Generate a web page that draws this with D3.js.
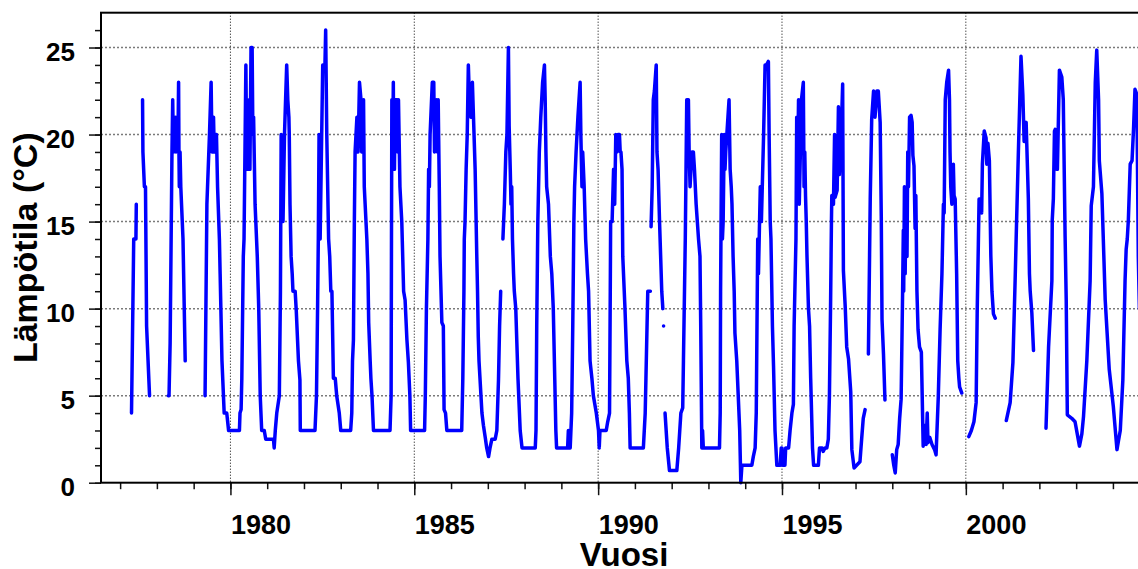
<!DOCTYPE html>
<html>
<head>
<meta charset="utf-8">
<script src="https://cdn.jsdelivr.net/npm/d3@7"></script>
<style>
  html, body { margin: 0; padding: 0; background: #fff; }
  svg { display: block; font-family: Arial, "Liberation Sans", Helvetica, sans-serif; }
</style>
</head>
<body>
<script>
// water temperature, [decimal year, °C]; one array per unbroken stretch of the record
const run1977a = [[1977.31,4],[1977.37,14],[1977.43,14],[1977.44,16]];
const run1977b = [[1977.61,22],[1977.62,19],[1977.64,18],[1977.66,17],[1977.69,17],[1977.72,9],[1977.76,7],[1977.80,5]];
const run1978 = [[1978.31,5],[1978.33,5],[1978.36,8],[1978.41,19],[1978.43,22],[1978.45,19],[1978.50,21],[1978.52,19],
  [1978.55,21],[1978.57,19],[1978.59,23],[1978.60,19],[1978.61,17],[1978.63,19],[1978.65,17],[1978.71,14],[1978.77,7]];
const run1979to87 = [
  [1979.31,5],[1979.36,16],[1979.43,20],[1979.475,23],[1979.50,19],[1979.54,21],[1979.56,19],[1979.58,20],[1979.62,20],
  [1979.63,19],[1979.65,17],[1979.70,14],[1979.72,12],[1979.77,7],[1979.83,4],[1979.90,4],[1979.95,3],[1980.245,3],
  [1980.26,4],[1980.29,4.2],
  [1980.31,6],[1980.35,13],[1980.37,14],[1980.42,24],[1980.445,18],[1980.49,18],[1980.51,22],[1980.53,18],[1980.56,25],
  [1980.59,25],[1980.61,20],[1980.63,21],[1980.67,16],[1980.73,13],[1980.77,10],[1980.81,5],[1980.85,3],[1980.92,3],
  [1980.96,2.5],[1981.17,2.5],[1981.19,2],[1981.22,3],[1981.26,4],[1981.33,5],
  [1981.36,11],[1981.38,20],[1981.40,15],[1981.43,15],[1981.47,20],[1981.53,24],[1981.56,22],[1981.59,21],[1981.60,20],
  [1981.62,16],[1981.65,13],[1981.68,12],[1981.70,11],[1981.76,11],[1981.79,9.9],[1981.85,7],[1981.89,5.9],[1981.90,3],
  [1982.30,3],
  [1982.34,5],[1982.37,10],[1982.39,14],[1982.41,20],[1982.44,14],[1982.51,24],[1982.57,24],[1982.59,26],[1982.62,20],
  [1982.67,14],[1982.70,13],[1982.73,11],[1982.76,11],[1982.80,6],[1982.85,6],[1982.89,5],[1982.96,4],[1983.00,3],
  [1983.27,3],
  [1983.30,4],[1983.32,7],[1983.345,8.2],[1983.37,15],[1983.39,19],[1983.44,21],[1983.47,19],[1983.51,23],[1983.55,22],
  [1983.57,19],[1983.62,22],[1983.64,17],[1983.71,14],[1983.74,12],[1983.76,9.2],[1983.80,7],[1983.82,6],[1983.85,5],
  [1983.89,3],[1984.34,3],
  [1984.37,5],[1984.38,14],[1984.39,22],[1984.41,18],[1984.43,23],[1984.44,19],[1984.46,18],[1984.48,22],[1984.53,22],
  [1984.55,19],[1984.57,22],[1984.61,17],[1984.66,15],[1984.71,11],[1984.75,10.5],[1984.80,8.2],[1984.84,6.9],
  [1984.88,5],[1984.90,3],[1985.28,3],
  [1985.30,5],[1985.33,10],[1985.37,14],[1985.39,18],[1985.41,17],[1985.43,20],[1985.49,23],[1985.53,23],[1985.55,19],
  [1985.60,22],[1985.63,19],[1985.65,22],[1985.68,17],[1985.70,13],[1985.75,9.2],[1985.79,9],[1985.81,4.2],[1985.85,4],
  [1985.885,3],[1986.29,3],
  [1986.32,6],[1986.35,11],[1986.36,14],[1986.38,15],[1986.41,18],[1986.44,20],[1986.47,24],[1986.50,22],[1986.54,21],
  [1986.58,23],[1986.61,21],[1986.655,18],[1986.70,13],[1986.72,11],[1986.74,8.4],[1986.76,7],[1986.84,4],[1986.88,3.3],
  [1986.93,2.6],[1986.97,2],[1987.02,1.5],[1987.06,2],[1987.11,2.5],[1987.20,2.5],[1987.245,3],[1987.29,5.9],
  [1987.32,9],[1987.35,11]];
const run1987to91 = [
  [1987.41,14],[1987.45,16],[1987.49,19],[1987.52,20],[1987.56,25],[1987.58,20.5],[1987.61,18],[1987.63,16],[1987.65,17],
  [1987.67,14],[1987.70,12],[1987.72,11],[1987.76,10],[1987.82,6],[1987.88,3],[1987.93,2],[1988.29,2],
  [1988.31,3],[1988.33,9],[1988.36,15],[1988.38,17],[1988.40,19],[1988.44,21],[1988.49,23],[1988.54,24],[1988.56,22],
  [1988.58,19],[1988.60,17],[1988.65,16],[1988.70,13],[1988.74,12],[1988.78,10],[1988.82,6],[1988.85,3],[1988.87,2],
  [1989.17,2],[1989.19,3],[1989.21,2],[1989.23,3],[1989.24,2],
  [1989.28,4],[1989.31,9],[1989.34,15],[1989.36,17],[1989.40,19],[1989.45,21],[1989.51,23],[1989.53,20],[1989.56,17],
  [1989.58,19],[1989.60,18],[1989.62,17],[1989.66,14],[1989.71,12],[1989.74,11],[1989.78,7],[1989.83,6],[1989.87,5],
  [1989.95,4],[1990.01,3],[1990.03,2],[1990.05,3],[1990.22,3],[1990.26,3.5],[1990.31,4],
  [1990.33,11],[1990.34,15],[1990.38,15],[1990.42,18],[1990.45,16],[1990.48,20],[1990.51,19],[1990.54,20],[1990.58,20],
  [1990.60,19],[1990.62,19],[1990.65,18],[1990.67,13],[1990.71,11],[1990.73,10],[1990.78,7],[1990.82,6],[1990.85,4],
  [1990.87,2],[1991.23,2],
  [1991.28,4],[1991.30,6],[1991.35,11],[1991.42,11]];
const run1991 = [[1991.44,14.7],[1991.47,17],[1991.50,22],[1991.53,22.5],[1991.58,24],[1991.60,19],[1991.63,18],
  [1991.67,15],[1991.73,11],[1991.76,10]];
const dot1991 = [[1991.78,9]];
const run1991to97 = [
  [1991.82,4],[1991.88,2],[1991.94,0.7],[1992.14,0.7],[1992.19,2],[1992.25,4],[1992.30,4.3],[1992.32,7],
  [1992.37,14],[1992.41,22],[1992.455,22],[1992.475,19],[1992.50,17],[1992.55,19],[1992.59,19],[1992.62,18],
  [1992.665,16],[1992.73,14],[1992.77,13],[1992.79,9],[1992.82,2],[1992.84,3],[1992.86,2],[1993.30,2],
  [1993.32,4],[1993.33,11],[1993.34,14],[1993.36,20],[1993.38,14],[1993.40,15],[1993.43,20],[1993.45,18],[1993.47,19],
  [1993.50,20],[1993.53,21],[1993.56,22],[1993.59,18],[1993.62,17],[1993.64,16],[1993.67,13],[1993.70,11],
  [1993.72,8.6],[1993.77,7],[1993.81,5],[1993.85,3],[1993.88,0],[1993.91,1],[1994.18,1],[1994.22,1.5],[1994.27,2],
  [1994.30,4],
  [1994.34,14],[1994.36,12],[1994.41,17],[1994.44,15],[1994.50,20],[1994.54,24],[1994.58,24],[1994.63,24.2],
  [1994.65,20],[1994.68,15],[1994.70,14],[1994.74,9],[1994.77,6.7],[1994.81,3],[1994.86,1],[1994.95,1],[1994.98,2],
  [1995.00,2],[1995.02,1],[1995.08,1],[1995.10,2],[1995.18,2],[1995.22,3],[1995.27,4],[1995.31,4.5],
  [1995.33,9],[1995.36,12],[1995.38,14],[1995.40,21],[1995.42,17],[1995.45,22],[1995.47,16],[1995.50,19],[1995.53,22],
  [1995.58,23],[1995.60,17],[1995.62,19],[1995.64,16.5],[1995.66,15],[1995.68,13],[1995.72,10],[1995.75,9],
  [1995.78,6],[1995.83,2],[1995.86,1],[1995.99,1],[1996.02,2],[1996.09,2],[1996.12,1.8],[1996.17,2],[1996.22,2],
  [1996.26,2.5],
  [1996.29,5],[1996.32,10],[1996.345,15],[1996.355,16.5],[1996.40,16],[1996.43,20],[1996.445,16.4],[1996.50,16.8],
  [1996.535,21.6],[1996.56,17.7],[1996.60,19.3],[1996.65,22.9],[1996.67,12.2],[1996.72,10.1],[1996.76,7.8],
  [1996.81,7.1],[1996.87,5.2],[1996.90,1.9],[1996.96,0.85],[1997.03,1.0],[1997.12,1.2],[1997.17,2.6],[1997.21,3.7],
  [1997.26,4.2]];
const run1997 = [[1997.35,7.4],[1997.40,16.3],[1997.44,20.9],[1997.49,22.5],[1997.53,21],[1997.58,22.5],[1997.62,22.5],
  [1997.67,20.7],[1997.70,15.3],[1997.72,9.4],[1997.76,7.4],[1997.80,4.75]];
const run1998to99 = [
  [1998.00,1.6],[1998.04,1.0],[1998.08,0.56],[1998.12,1.9],[1998.16,2.2],[1998.20,3.7],[1998.24,4.8],[1998.28,10.9],
  [1998.30,14.5],[1998.31,11],[1998.33,17],[1998.35,12],[1998.37,16],[1998.40,13],[1998.42,19],[1998.44,17],
  [1998.47,21],[1998.51,21.1],[1998.54,20.7],[1998.56,18.8],[1998.59,18.2],[1998.62,14.6],[1998.64,16.5],[1998.67,11],
  [1998.70,8.8],[1998.74,7.8],[1998.79,7.5],[1998.84,2.1],[1998.86,2.5],[1998.90,3.3],[1998.92,2.2],[1998.95,4.0],
  [1998.97,2.3],[1999.02,2.6],[1999.08,2.2],[1999.15,1.9],[1999.19,1.6],
  [1999.25,4.9],[1999.30,8.8],[1999.35,12],[1999.39,16],[1999.41,15.5],[1999.44,22],[1999.48,23],[1999.53,23.7],
  [1999.555,22],[1999.57,19],[1999.59,17],[1999.62,16],[1999.66,18.3],[1999.68,16.5],[1999.71,16.3],[1999.75,12],
  [1999.78,7],[1999.81,6],[1999.83,5.5],[1999.89,5.15]];
const run2000 = [[2000.08,2.65],[2000.15,3.0],[2000.22,3.5],[2000.28,4.6],[2000.31,10],[2000.34,13.7],[2000.36,16.3],
  [2000.41,16.3],[2000.43,15.5],[2000.45,18.3],[2000.50,20.2],[2000.55,19.8],[2000.57,18.3],[2000.60,19.5],
  [2000.64,18.5],[2000.68,13],[2000.71,11],[2000.75,9.7],[2000.80,9.45]];
const run2001 = [[2001.10,3.57],[2001.205,4.6],[2001.28,6.9],[2001.34,11.6],[2001.38,15],[2001.43,19.1],[2001.50,24.5],
  [2001.55,22.3],[2001.585,19.6],[2001.62,20.5],[2001.64,20.7],[2001.70,16.3],[2001.73,12],[2001.75,11],
  [2001.795,9.75],[2001.84,7.6]];
const run2002to04 = [
  [2002.18,3.13],[2002.25,7.8],[2002.34,11.6],[2002.35,15.1],[2002.38,16.3],[2002.41,20.2],[2002.43,20.3],
  [2002.475,18],[2002.49,18],[2002.545,23.7],[2002.61,23.3],[2002.65,22],[2002.70,14.1],[2002.73,10.5],[2002.76,3.9],
  [2002.88,3.7],[2002.97,3.5],[2003.09,2.1],[2003.155,2.8],[2003.20,3.8],[2003.29,7],[2003.38,11.6],[2003.41,15.9],
  [2003.47,17],[2003.52,23],[2003.56,24.85],[2003.61,22],[2003.63,18.5],[2003.70,16.6],[2003.79,10.5],[2003.90,6.5],
  [2004.01,4.4],[2004.11,1.9],[2004.15,2.4],[2004.20,3],[2004.27,5.9],[2004.33,11.6],[2004.36,13.4],[2004.39,14],
  [2004.42,15.1],[2004.47,18.3],[2004.52,18.5],[2004.56,20.3],[2004.60,22.6],[2004.65,22.3],[2004.69,13],[2004.72,10]];

const runs = [run1977a, run1977b, run1978, run1979to87, run1987to91, run1991, dot1991,
  run1991to97, run1997, run1998to99, run2000, run2001, run2002to04];

const yearTicks = [1980, 1985, 1990, 1995, 2000];
const tempTicks = [0, 5, 10, 15, 20, 25];

const width = 1138, height = 569;
const plot = {left: 101, right: 1140.5, top: 12.7, bottom: 482.7};

const x = d3.scaleLinear().domain([1976.48, 2004.75]).range([plot.left, plot.right]);
const y = d3.scaleLinear().domain([0, 27]).range([plot.bottom, plot.top]);

const svg = d3.select("body").append("svg")
  .attr("width", width)
  .attr("height", height);

// grid
svg.append("g")
  .selectAll("line")
  .data(tempTicks.filter(d => d > 0))
  .join("line")
  .attr("x1", plot.left).attr("x2", plot.right)
  .attr("y1", d => y(d)).attr("y2", d => y(d))
  .attr("stroke", "#7a7a7a")
  .attr("stroke-width", 1.5)
  .attr("stroke-dasharray", "2,2");

svg.append("g")
  .selectAll("line")
  .data(yearTicks)
  .join("line")
  .attr("x1", d => x(d)).attr("x2", d => x(d))
  .attr("y1", plot.top).attr("y2", plot.bottom)
  .attr("stroke", "#000")
  .attr("stroke-width", 1)
  .attr("stroke-dasharray", "1,2");

// temperature record
const line = d3.line()
  .x(d => x(d[0]))
  .y(d => y(d[1]));

const marks = svg.append("g");
marks.selectAll("path")
  .data(runs.filter(r => r.length > 1))
  .join("path")
  .attr("d", line)
  .attr("fill", "none")
  .attr("stroke", "#0000ff")
  .attr("stroke-width", 3.5)
  .attr("stroke-linejoin", "round")
  .attr("stroke-linecap", "round");

marks.selectAll("circle")
  .data(runs.filter(r => r.length === 1).flat())
  .join("circle")
  .attr("cx", d => x(d[0]))
  .attr("cy", d => y(d[1]))
  .attr("r", 1.8)
  .attr("fill", "#0000ff");

// axes
function styleAxis(g) {
  g.select(".domain").remove();
  g.selectAll(".tick line").attr("stroke", "#111").attr("stroke-width", 1.5);
  g.attr("font-family", null).attr("font-size", null);
}

svg.append("g")
  .attr("transform", `translate(${plot.left},0)`)
  .call(d3.axisLeft(y).tickValues(d3.range(0, 27)).tickSize(6).tickFormat(""))
  .call(styleAxis);

svg.append("g")
  .attr("transform", `translate(${plot.left},0)`)
  .call(d3.axisLeft(y).tickValues(tempTicks).tickSize(12).tickPadding(14).tickFormat(d3.format("d")))
  .call(styleAxis)
  .call(g => g.selectAll("text")
    .attr("fill", "#000")
    .attr("font-size", 26)
    .attr("font-weight", "bold")
    .attr("dy", "0.5em"));

svg.append("g")
  .attr("transform", `translate(0,${plot.bottom})`)
  .call(d3.axisBottom(x).tickValues(d3.range(1977, 2005)).tickSize(6.5).tickFormat(""))
  .call(styleAxis);

svg.append("g")
  .attr("transform", `translate(0,${plot.bottom})`)
  .call(d3.axisBottom(x).tickValues(yearTicks).tickSize(12.5).tickFormat(d3.format("d")))
  .call(styleAxis)
  .call(g => g.selectAll("text")
    .attr("fill", "#000")
    .attr("font-size", 27)
    .attr("font-weight", "bold")
    .attr("text-anchor", "start")
    .attr("y", 51.5)
    .attr("dy", null));

// frame
svg.append("rect")
  .attr("x", plot.left)
  .attr("y", plot.top)
  .attr("width", plot.right - plot.left)
  .attr("height", plot.bottom - plot.top)
  .attr("fill", "none")
  .attr("stroke", "#000")
  .attr("stroke-width", 2);

// titles
svg.append("text")
  .attr("transform", `translate(37,${(plot.top + plot.bottom) / 2}) rotate(-90)`)
  .attr("text-anchor", "middle")
  .attr("font-size", 34)
  .attr("font-weight", "bold")
  .text("Lämpötila (°C)");

svg.append("text")
  .attr("x", 624)
  .attr("y", 566)
  .attr("text-anchor", "middle")
  .attr("font-size", 33)
  .attr("font-weight", "bold")
  .text("Vuosi");
</script>
</body>
</html>
